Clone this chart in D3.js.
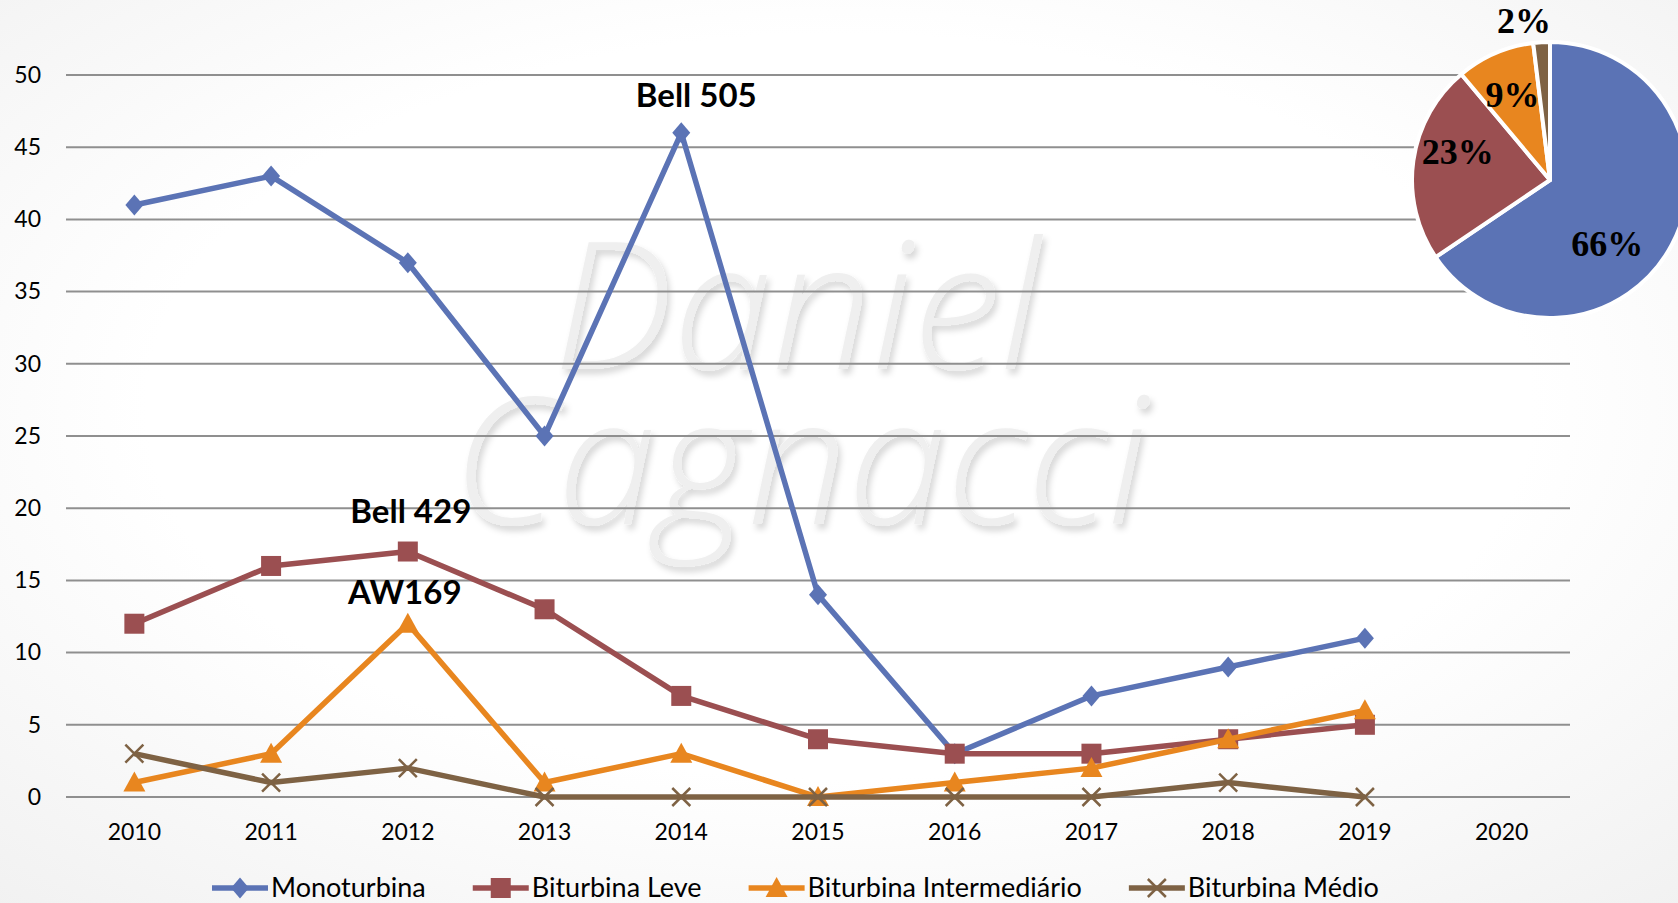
<!DOCTYPE html>
<html>
<head>
<meta charset="utf-8">
<script src="https://cdn.jsdelivr.net/npm/d3@7"></script>
<style>
  html, body { margin: 0; padding: 0; background: #fff; }
  svg { display: block; }
</style>
</head>
<body>
<svg id="chart" width="1678" height="903"></svg>
<script>
// data
const years = [2010, 2011, 2012, 2013, 2014, 2015, 2016, 2017, 2018, 2019, 2020];
const seriesNames = ['Monoturbina', 'Biturbina Leve', 'Biturbina Intermediário', 'Biturbina Médio'];
const monoturbina = [41, 43, 37, 25, 46, 14, 3, 7, 9, 11];
const biturbinaLeve = [12, 16, 17, 13, 7, 4, 3, 3, 4, 5];
const biturbinaInter = [1, 3, 12, 1, 3, 0, 1, 2, 4, 6];
const biturbinaMedio = [3, 1, 2, 0, 0, 0, 0, 0, 1, 0];
const yTicks = [0, 5, 10, 15, 20, 25, 30, 35, 40, 45, 50];
const calloutTexts = ['Bell 505', 'Bell 429', 'AW169'];
const calloutYears = [2014, 2012, 2012];
const calloutValues = [46, 17, 12];

// label offsets from the point (pixels)
const calloutShift = [[15, -26], [3, -29], [-3, -20]];

const colors = ['#5b73b5', '#9b4f51', '#e8861f', '#7e6244'];
const shapes = ['diamond', 'square', 'triangle', 'cross'];
const allSeries = [monoturbina, biturbinaLeve, biturbinaInter, biturbinaMedio];

const width = 1678, height = 903;
const svg = d3.select('#chart');
const defs = svg.append('defs');

// soft background
const bg = defs.append('radialGradient').attr('id', 'bg')
  .attr('cx', '50%').attr('cy', '45%').attr('r', '75%');
bg.append('stop').attr('offset', '55%').attr('stop-color', '#ffffff');
bg.append('stop').attr('offset', '100%').attr('stop-color', '#f1f1f1');
svg.append('rect').attr('width', width).attr('height', height).attr('fill', 'url(#bg)');

const shadow = defs.append('filter').attr('id', 'wmShadow')
  .attr('x', '-10%').attr('y', '-10%').attr('width', '120%').attr('height', '130%');
shadow.append('feDropShadow').attr('dx', 3).attr('dy', 5).attr('stdDeviation', 3)
  .attr('flood-color', '#000').attr('flood-opacity', 0.16);

const x = d3.scaleBand().domain(years).range([66, 1570]);
const y = d3.scaleLinear().domain([0, 50]).range([797, 75]);
const cx = d => x(d) + x.bandwidth() / 2;

// watermark
const wm = svg.append('g').attr('filter', 'url(#wmShadow)')
  .attr('font-family', '"Open Sans", sans-serif').attr('font-style', 'italic')
  .attr('font-weight', 300).attr('font-size', 178).attr('fill', '#efefef')
  .attr('text-anchor', 'middle');
wm.append('text').attr('x', 797).attr('y', 369).text('Daniel');
wm.append('text').attr('x', 800).attr('y', 524).text('Cagnacci');

// gridlines
svg.append('g').selectAll('line').data(yTicks).join('line')
  .attr('x1', 66).attr('x2', 1570)
  .attr('y1', d => y(d)).attr('y2', d => y(d))
  .attr('stroke', '#8f8f8f').attr('stroke-width', 2);

// axes
const yAxis = svg.append('g').attr('transform', 'translate(48,0)')
  .call(d3.axisLeft(y).tickValues(yTicks).tickSize(0).tickPadding(7));
const xAxis = svg.append('g').attr('transform', 'translate(0,817)')
  .call(d3.axisBottom(x).tickSize(0).tickPadding(7));
[yAxis, xAxis].forEach(a => {
  a.select('.domain').remove();
  a.selectAll('text').attr('font-family', 'Lato, "Open Sans", sans-serif')
    .attr('font-size', 23).attr('fill', '#000');
});

// pie of totals
const totals = allSeries.map(s => d3.sum(s));
const pieCx = 1550, pieCy = 180, pieR = 138;
const pie = d3.pie().sort(null)(totals);
const arc = d3.arc().innerRadius(0).outerRadius(pieR);
const pg = svg.append('g').attr('transform', `translate(${pieCx},${pieCy})`);
pg.selectAll('path').data(pie).join('path')
  .attr('d', arc).attr('fill', (d, i) => colors[i])
  .attr('stroke', '#fff').attr('stroke-width', 4).attr('stroke-linejoin', 'round');
const labelR = [0.62, 0.70, 0.68, 1.17];
const labelShift = [0.35, 0.16, 0, -0.1];
const sumAll = d3.sum(totals);
pg.selectAll('text').data(pie).join('text')
  .attr('transform', (d, i) => {
    const a = (d.startAngle + d.endAngle) / 2 + labelShift[i];
    const r = pieR * labelR[i];
    return `translate(${Math.sin(a) * r},${-Math.cos(a) * r})`;
  })
  .attr('text-anchor', 'middle').attr('dy', '0.35em')
  .attr('font-family', '"Liberation Serif", "Times New Roman", serif')
  .attr('font-weight', 'bold').attr('font-size', 36).attr('fill', '#000')
  .text(d => Math.round(d.value / sumAll * 100) + '%');

// markers
function marker(sel, shape, color) {
  if (shape === 'diamond') {
    sel.append('path').attr('d', 'M0,-10.5L9,0L0,10.5L-9,0Z').attr('fill', color);
  } else if (shape === 'square') {
    sel.append('rect').attr('x', -10).attr('y', -10).attr('width', 20).attr('height', 20).attr('fill', color);
  } else if (shape === 'triangle') {
    sel.append('path').attr('d', 'M0,-11L11,9L-11,9Z').attr('fill', color);
  } else {
    sel.append('path').attr('d', 'M-9,-9L9,9M-9,9L9,-9')
      .attr('stroke', color).attr('stroke-width', 2.5).attr('fill', 'none');
  }
}

// lines
const line = d3.line().x((d, i) => cx(years[i])).y(d => y(d));
allSeries.forEach((s, k) => {
  const g = svg.append('g');
  g.append('path').datum(s).attr('d', line).attr('fill', 'none')
    .attr('stroke', colors[k]).attr('stroke-width', 5.5).attr('stroke-linejoin', 'round');
  g.selectAll('g').data(s).join('g')
    .attr('transform', (d, i) => `translate(${cx(years[i])},${y(d)})`)
    .each(function() { marker(d3.select(this), shapes[k], colors[k]); });
});

// callouts
svg.append('g').selectAll('text').data(calloutTexts).join('text')
  .attr('x', (d, i) => cx(calloutYears[i]) + calloutShift[i][0])
  .attr('y', (d, i) => y(calloutValues[i]) + calloutShift[i][1])
  .attr('text-anchor', 'middle')
  .attr('font-family', 'Lato, "Open Sans", sans-serif').attr('font-weight', 'bold')
  .attr('font-size', 33).attr('fill', '#000')
  .text(d => d);

// legend
const legend = svg.append('g').attr('transform', 'translate(0,888)');
let lx = 212;
seriesNames.forEach((name, k) => {
  const item = legend.append('g').attr('transform', `translate(${lx},0)`);
  item.append('line').attr('x1', 0).attr('x2', 56).attr('stroke', colors[k])
    .attr('stroke-width', 5.5);
  const m = item.append('g').attr('transform', 'translate(28,0)');
  marker(m, shapes[k], colors[k]);
  const t = item.append('text').attr('x', 59).attr('dy', '0.35em')
    .attr('font-family', 'Lato, "Open Sans", sans-serif').attr('font-size', 27)
    .attr('fill', '#000').text(name);
  lx += 59 + t.node().getComputedTextLength() + 47;
});
</script>
</body>
</html>
